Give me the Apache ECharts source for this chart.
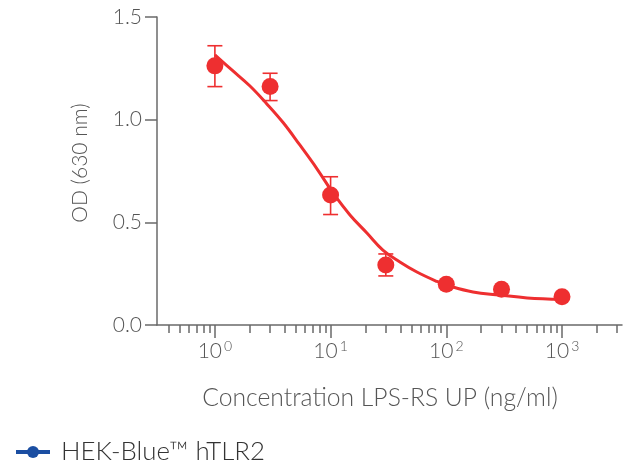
<!DOCTYPE html>
<html>
<head>
<meta charset="utf-8">
<script src="https://cdn.jsdelivr.net/npm/echarts@6/dist/echarts.min.js"></script>
<style>html,body{margin:0;padding:0;background:#fff}#c{width:624px;height:463px}</style>
</head>
<body>
<div id="c"></div>
<script>
// Measured points (concentration in ng/ml, OD at 630 nm)
const concentrations = [1, 3, 10, 30, 100, 300, 1000];
const odMean = [1.262, 1.161, 0.633, 0.292, 0.198, 0.174, 0.138];
const odLow  = [1.161, 1.093, 0.538, 0.239, 0.190, 0.166, 0.130];
const odHigh = [1.360, 1.226, 0.722, 0.346, 0.206, 0.182, 0.146];
// Fitted curve
const fitX = [1, 1.4, 2, 2.8, 3.9, 5.4, 7.6, 10.5, 14.7, 20.6, 28.3, 39.7, 55.7, 83, 100, 170, 290, 500, 1000];
const fitY = [1.315, 1.242, 1.165, 1.078, 0.985, 0.878, 0.762, 0.643, 0.536, 0.448, 0.365, 0.307, 0.258, 0.212, 0.195, 0.161, 0.146, 0.132, 0.125];
// Axis ticks
const majorTicks = [1, 10, 100, 1000];
const minorTicks = [0.4, 0.5, 0.6, 0.7, 0.8, 0.9, 2, 3, 4, 5, 6, 7, 8, 9, 20, 30, 40, 50, 60, 70, 80, 90, 200, 300, 400, 500, 600, 700, 800, 900, 2000, 3000];
const seriesName = 'HEK-Blue\u2122 hTLR2';

const red = '#ee2f30';
const blue = '#1b4ea2';
const grey = '#555555';
const axisGrey = '#6a6a6a';
const font = 'Lato';
const fw = 300;

const chart = echarts.init(document.getElementById('c'));
chart.setOption({
  animation: false,
  textStyle: { fontFamily: font, fontWeight: fw },
  grid: { left: 157, right: 2, top: 17, bottom: 138 },
  legend: {
    left: 9, top: 434,
    itemWidth: 34, itemHeight: 15,
    data: [{ name: seriesName, itemStyle: { color: blue }, lineStyle: { color: blue, width: 4 } }],
    textStyle: { fontFamily: font, fontWeight: fw, fontSize: 25.8, color: '#333', padding: [0, 0, 0, 6] }
  },
  xAxis: [{
    type: 'log', logBase: 10, min: 0.316, max: 3300,
    name: 'Concentration LPS-RS UP (ng/ml)', nameLocation: 'middle', nameGap: 61,
    nameTextStyle: { fontFamily: font, fontWeight: fw, fontSize: 24.7, color: grey, padding: [0, 19, 0, 0] },
    axisLine: { lineStyle: { color: axisGrey, width: 1.5 } },
    axisTick: { customValues: majorTicks, length: 13, lineStyle: { color: axisGrey, width: 1.5 } },
    axisLabel: {
      customValues: majorTicks, margin: 14,
      formatter: v => '{b|10}{s|' + Math.round(Math.log10(v)) + '}',
      rich: {
        b: { fontFamily: font, fontWeight: fw, fontSize: 21, color: grey },
        s: { fontFamily: font, fontWeight: fw, fontSize: 14, color: grey, padding: [0, 0, 10, 2] }
      }
    },
    splitLine: { show: false }
  }, {
    type: 'log', logBase: 10, min: 0.316, max: 3300, position: 'bottom',
    axisLine: { show: false },
    axisTick: { customValues: minorTicks, length: 8, lineStyle: { color: axisGrey, width: 1.5 } },
    axisLabel: { show: false },
    splitLine: { show: false }
  }],
  yAxis: {
    type: 'value', min: 0, max: 1.5, interval: 0.5,
    name: 'OD (630 nm)', nameLocation: 'middle', nameGap: 66,
    nameTextStyle: { fontFamily: font, fontWeight: fw, fontSize: 21, color: grey, padding: [0, 0, 0, 16] },
    axisLine: { show: true, lineStyle: { color: axisGrey, width: 1.5 } },
    axisTick: { show: true, length: 12, lineStyle: { color: axisGrey, width: 1.5 } },
    axisLabel: { margin: 15, fontFamily: font, fontWeight: fw, fontSize: 21, color: grey, formatter: v => v.toFixed(1) },
    splitLine: { show: false }
  },
  series: [{
    name: seriesName, type: 'line',
    data: fitX.map((x, i) => [x, fitY[i]]),
    smooth: 0.4,
    symbol: 'circle', symbolSize: 10, showSymbol: false,
    lineStyle: { color: red, width: 3 }, itemStyle: { color: red },
    z: 3
  }, {
    name: 'err', type: 'custom',
    data: concentrations.map((c, i) => [c, odLow[i], odHigh[i]]),
    encode: { x: 0, y: [1, 2] },
    renderItem: (params, api) => {
      const x = api.value(0);
      const lo = api.coord([x, api.value(1)]);
      const hi = api.coord([x, api.value(2)]);
      const hw = 7.5;
      const st = { stroke: red, lineWidth: 1.6 };
      return { type: 'group', children: [
        { type: 'line', shape: { x1: lo[0], y1: lo[1], x2: hi[0], y2: hi[1] }, style: st },
        { type: 'line', shape: { x1: lo[0] - hw, y1: lo[1], x2: lo[0] + hw, y2: lo[1] }, style: st },
        { type: 'line', shape: { x1: hi[0] - hw, y1: hi[1], x2: hi[0] + hw, y2: hi[1] }, style: st }
      ]};
    },
    z: 2
  }, {
    name: 'pts', type: 'scatter',
    data: concentrations.map((c, i) => [c, odMean[i]]),
    symbol: 'circle', symbolSize: 17,
    itemStyle: { color: red, opacity: 1 },
    z: 4
  }]
});
</script>
</body>
</html>
